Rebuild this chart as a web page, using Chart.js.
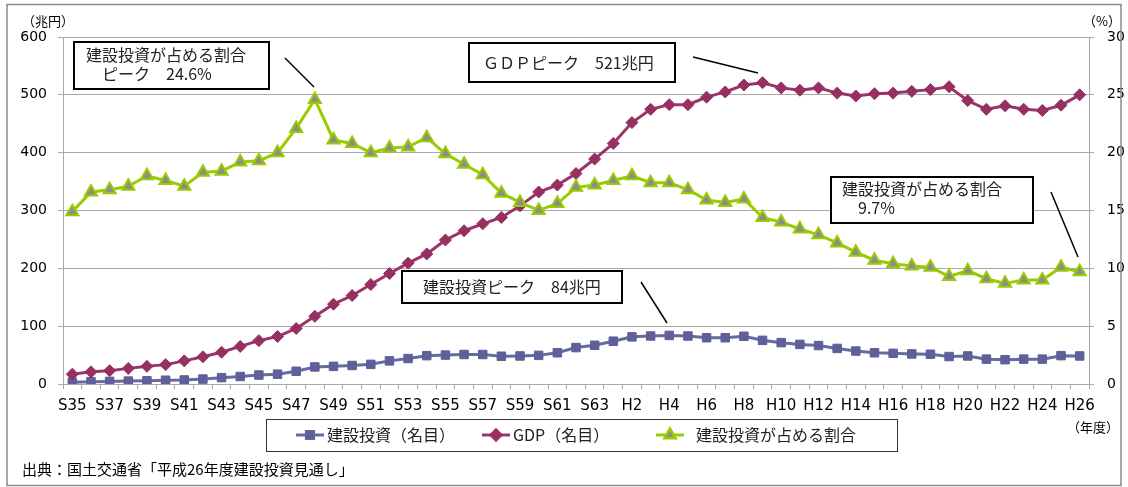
<!DOCTYPE html>
<html>
<head>
<meta charset="utf-8">
<script src="https://cdn.jsdelivr.net/npm/chart.js@4.4.0/dist/chart.umd.min.js"></script>
<style>
  html, body { margin: 0; padding: 0; background: #fff; }
  #wrap { width: 1128px; height: 487px; position: relative; }
</style>
</head>
<body>
<div id="wrap"><canvas id="graph" width="1128" height="487"></canvas></div>
<script>
// 年度ラベル (S35〜S63, H1〜H26)
const years = [
  'S35','S36','S37','S38','S39','S40','S41','S42','S43','S44',
  'S45','S46','S47','S48','S49','S50','S51','S52','S53','S54',
  'S55','S56','S57','S58','S59','S60','S61','S62','S63',
  'H1','H2','H3','H4','H5','H6','H7','H8','H9','H10',
  'H11','H12','H13','H14','H15','H16','H17','H18','H19','H20',
  'H21','H22','H23','H24','H25','H26'
];

// 建設投資（名目） 兆円
const kensetsu = [
  3, 4, 4.5, 5, 5.5, 6.5, 7, 8.5, 11, 13,
  15.5, 17, 22, 29.5, 30.5, 32, 34, 40, 44, 49,
  50, 51, 51, 48, 48.5, 49.5, 54, 63, 67,
  74, 81.5, 83, 84, 83, 80, 80, 82.5, 75.5, 71.5,
  68.5, 66.5, 61.5, 57, 54, 53, 52, 51.5, 47.5, 48.5,
  43, 42, 43, 43, 49, 48.5
];

// GDP（名目） 兆円
const gdp = [
  17, 21, 23, 27, 30.5, 33.5, 40, 47, 55, 65,
  75, 82, 96, 117, 138, 153, 172, 191, 209, 225,
  249, 265, 277, 288, 308, 332, 344, 364, 389,
  416, 452, 475, 483, 483, 496, 505, 517, 521, 512,
  508, 512, 503, 498, 502, 503, 506, 509, 514, 490,
  475, 481, 475, 473, 482, 500
];

// 建設投資が占める割合 %
const wariai = [
  14.9, 16.6, 16.8, 17.1, 18.0, 17.6, 17.1, 18.3, 18.4, 19.2,
  19.3, 20.0, 22.1, 24.6, 21.1, 20.8, 20.0, 20.4, 20.5, 21.3,
  19.9, 19.0, 18.1, 16.5, 15.7, 15.0, 15.6, 17.0, 17.2,
  17.6, 18.0, 17.4, 17.4, 16.8, 15.9, 15.7, 16.0, 14.4, 14.0,
  13.4, 12.9, 12.2, 11.4, 10.7, 10.4, 10.2, 10.1, 9.3, 9.8,
  9.1, 8.7, 9.0, 9.0, 10.1, 9.7
];

const leftTicks = [0, 100, 200, 300, 400, 500, 600];
const rightTicks = [0, 5, 10, 15, 20, 25, 30];

const JP = '"Noto Sans CJK JP", "Noto Sans", sans-serif';
const NUM = '"DejaVu Sans", sans-serif';
const GRID = '#a8a8a8';

// 吹き出し（注記）
const notes = [
  { box: [74, 42, 195, 47], lines: [['建設投資が占める割合', 86, 55], ['　ピーク　24.6%', 86, 74]], lead: [285, 58, 314, 87] },
  { box: [469, 43, 206, 39], lines: [['ＧＤＰピーク　521兆円', 483, 63]], lead: [693, 57, 758, 73] },
  { box: [831, 177, 202, 46], lines: [['建設投資が占める割合', 842, 189], ['　9.7%', 842, 208]], lead: [1051, 192, 1078, 257] },
  { box: [402, 271, 220, 32], lines: [['建設投資ピーク　84兆円', 423, 287]], lead: [641, 282, 667, 323] }
];

// 凡例の配置
const legendBox = [266, 419, 631, 32];
const legendItems = [
  { ds: 0, icon: 296, text: 327, label: '建設投資（名目）' },
  { ds: 1, icon: 482, text: 513, label: 'GDP（名目）' },
  { ds: 2, icon: 656, text: 696, label: '建設投資が占める割合' }
];

const decor = {
  id: 'decor',
  afterDraw(chart) {
    const ctx = chart.ctx;
    ctx.save();

    // 外枠
    ctx.strokeStyle = '#8c8c8c';
    ctx.lineWidth = 1.5;
    ctx.strokeRect(7, 4.5, 1114, 481);

    ctx.fillStyle = '#000';
    ctx.textBaseline = 'middle';

    // 単位
    ctx.font = '13px ' + JP;
    ctx.textAlign = 'center';
    ctx.fillText('（兆円）', 48, 21);
    ctx.fillText('（%）', 1102, 21);
    ctx.fillText('（年度）', 1093, 427);

    // 出典
    ctx.textAlign = 'left';
    ctx.font = '15px ' + JP;
    ctx.fillText('出典：国土交通省「平成26年度建設投資見通し」', 22, 469);

    // 注記
    ctx.font = '16px ' + JP;
    notes.forEach(n => {
      ctx.fillStyle = '#fff';
      ctx.fillRect(n.box[0], n.box[1], n.box[2], n.box[3]);
      ctx.strokeStyle = '#000';
      ctx.lineWidth = 2;
      ctx.strokeRect(n.box[0], n.box[1], n.box[2], n.box[3]);
      ctx.fillStyle = '#222';
      n.lines.forEach(l => ctx.fillText(l[0], l[1], l[2]));
      ctx.lineWidth = 1.5;
      ctx.beginPath();
      ctx.moveTo(n.lead[0], n.lead[1]);
      ctx.lineTo(n.lead[2], n.lead[3]);
      ctx.stroke();
    });

    // 凡例
    ctx.strokeStyle = '#333';
    ctx.lineWidth = 1;
    ctx.strokeRect(legendBox[0] + 0.5, legendBox[1] + 0.5, legendBox[2], legendBox[3]);
    const cy = legendBox[1] + legendBox[3] / 2;
    legendItems.forEach(it => {
      const ds = chart.data.datasets[it.ds];
      ctx.strokeStyle = ds.borderColor;
      ctx.lineWidth = 3;
      ctx.beginPath();
      ctx.moveTo(it.icon, cy);
      ctx.lineTo(it.icon + 28, cy);
      ctx.stroke();
      Chart.helpers.drawPoint(ctx, {
        pointStyle: ds.pointStyle,
        radius: ds.pointRadius * 0.85,
        borderWidth: ds.pointBorderWidth
      }, it.icon + 14, cy);
      ctx.fillStyle = ds.pointBackgroundColor;
      ctx.strokeStyle = ds.pointBorderColor;
      ctx.lineWidth = ds.pointBorderWidth;
      ctx.fill();
      if (ds.pointBorderWidth) ctx.stroke();
      ctx.fillStyle = '#222';
      ctx.font = '16px ' + JP;
      ctx.fillText(it.label, it.text, cy);
    });

    ctx.restore();
  }
};

new Chart(document.getElementById('graph').getContext('2d'), {
  type: 'line',
  data: {
    labels: years,
    datasets: [
      {
        label: '建設投資（名目）',
        data: kensetsu,
        yAxisID: 'y',
        borderColor: '#6868a2',
        borderWidth: 3,
        pointStyle: 'rect',
        pointRadius: 6,
        pointBackgroundColor: '#5f5f99',
        pointBorderColor: '#5f5f99',
        pointBorderWidth: 1,
        tension: 0,
        order: 3
      },
      {
        label: 'GDP（名目）',
        data: gdp,
        yAxisID: 'y',
        borderColor: '#9b3468',
        borderWidth: 3,
        pointStyle: 'rectRot',
        pointRadius: 6,
        pointBackgroundColor: '#963062',
        pointBorderColor: '#963062',
        pointBorderWidth: 1,
        tension: 0,
        order: 2
      },
      {
        label: '建設投資が占める割合',
        data: wariai,
        yAxisID: 'y2',
        borderColor: '#99cc00',
        borderWidth: 3,
        pointStyle: 'triangle',
        pointRadius: 7,
        pointBackgroundColor: '#8c8c8c',
        pointBorderColor: '#99cc00',
        pointBorderWidth: 2,
        tension: 0,
        order: 1
      }
    ]
  },
  options: {
    responsive: false,
    animation: false,
    devicePixelRatio: 1,
    layout: { padding: { top: 37, left: 0, right: 0, bottom: 0 } },
    plugins: {
      legend: { display: false },
      tooltip: { enabled: false },
      title: { display: false }
    },
    scales: {
      x: {
        offset: true,
        grid: { drawOnChartArea: false, offset: true, tickLength: 5, color: GRID },
        border: { color: GRID },
        ticks: {
          autoSkip: false,
          maxRotation: 0,
          padding: 8,
          color: '#000',
          font: { family: NUM, size: 15 },
          callback: (v, i) => (i % 2 === 0 ? years[i] : '')
        },
        afterFit: s => { s.height = 103; }
      },
      y: {
        position: 'left',
        min: 0,
        max: 600,
        afterBuildTicks: s => { s.ticks = leftTicks.map(v => ({ value: v })); },
        grid: { color: GRID, tickLength: 5 },
        border: { color: GRID },
        ticks: { padding: 11, color: '#000', font: { family: NUM, size: 14 } },
        afterFit: s => { s.width = 63; }
      },
      y2: {
        position: 'right',
        min: 0,
        max: 30,
        afterBuildTicks: s => { s.ticks = rightTicks.map(v => ({ value: v })); },
        grid: { drawOnChartArea: false, color: GRID, tickLength: 5 },
        border: { color: GRID },
        ticks: { padding: 13, color: '#000', font: { family: NUM, size: 14 } },
        afterFit: s => { s.width = 39; }
      }
    }
  },
  plugins: [decor]
});
</script>
</body>
</html>
